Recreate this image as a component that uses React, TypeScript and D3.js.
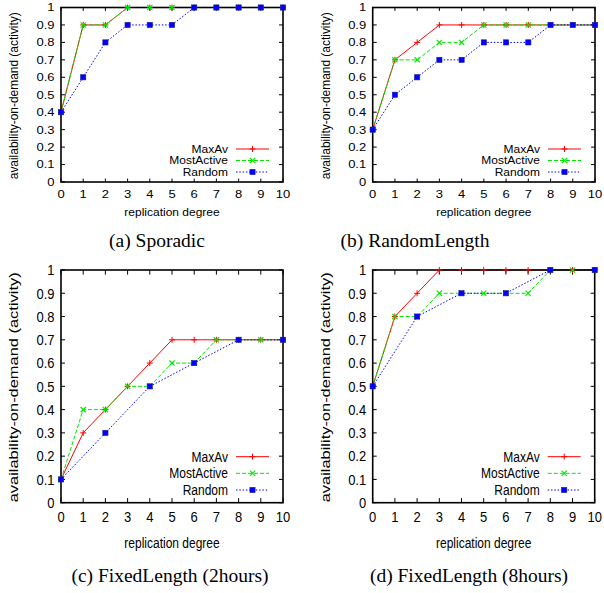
import React from 'react';
import * as d3 from 'd3';

// ---------- data ----------
const xDegrees = [0, 1, 2, 3, 4, 5, 6, 7, 8, 9, 10];
const xDegreesEven = [0, 2, 4, 6, 8, 10];
const seriesNames = ['MaxAv', 'MostActive', 'Random'];
const yTickValues = [0, 0.1, 0.2, 0.3, 0.4, 0.5, 0.6, 0.7, 0.8, 0.9, 1];
const yTickLabels = ['0', '0.1', '0.2', '0.3', '0.4', '0.5', '0.6', '0.7', '0.8', '0.9', '1'];
const xTickValues = [0, 1, 2, 3, 4, 5, 6, 7, 8, 9, 10];
const xAxisTitle = 'replication degree';
const yAxisTitle = 'availability-on-demand (activity)';

const sporadicMaxAv = [0.4, 0.9, 0.9, 1, 1, 1, 1, 1, 1, 1, 1];
const sporadicMostActive = [0.4, 0.9, 0.9, 1, 1, 1, 1, 1, 1, 1, 1];
const sporadicRandom = [0.4, 0.6, 0.8, 0.9, 0.9, 0.9, 1, 1, 1, 1, 1];

const randomLengthMaxAv = [0.3, 0.7, 0.8, 0.9, 0.9, 0.9, 0.9, 0.9, 0.9, 0.9, 0.9];
const randomLengthMostActive = [0.3, 0.7, 0.7, 0.8, 0.8, 0.9, 0.9, 0.9, 0.9, 0.9, 0.9];
const randomLengthRandom = [0.3, 0.5, 0.6, 0.7, 0.7, 0.8, 0.8, 0.8, 0.9, 0.9, 0.9];

const fixed2hMaxAv = [0.1, 0.3, 0.4, 0.5, 0.6, 0.7, 0.7, 0.7, 0.7, 0.7, 0.7];
const fixed2hMostActive = [0.1, 0.4, 0.4, 0.5, 0.5, 0.6, 0.6, 0.7, 0.7, 0.7, 0.7];
const fixed2hRandom = [0.1, 0.3, 0.5, 0.6, 0.7, 0.7];

const fixed8hMaxAv = [0.5, 0.8, 0.9, 1, 1, 1, 1, 1, 1, 1, 1];
const fixed8hMostActive = [0.5, 0.8, 0.8, 0.9, 0.9, 0.9, 0.9, 0.9, 1, 1, 1];
const fixed8hRandom = [0.5, 0.8, 0.9, 0.9, 1, 1];

const captions = ['(a) Sporadic', '(b) RandomLength', '(c) FixedLength (2hours)', '(d) FixedLength (8hours)'];

// ---------- styles ----------
const COLORS = ['#ff0000', '#00e800', '#0000ff'];
const DASH = ['none', '4,2', '1.5,1.8'];
const SANS = '"Liberation Sans", Arial, Helvetica, sans-serif';
const SERIF = '"Liberation Serif", "Times New Roman", Times, serif';

type Series = { xs: number[]; ys: number[] };
type Panel = {
  series: Series[];
  caption: string;
  left: number; right: number; top: number; bottom: number;
  sy: number; tickOff: number; xlabOff: number; legendRows: number[];
  ylabLen: number; capX: number; capY: number;
};

const panels: Panel[] = [
  {
    series: [
      { xs: xDegrees, ys: sporadicMaxAv },
      { xs: xDegrees, ys: sporadicMostActive },
      { xs: xDegrees, ys: sporadicRandom },
    ],
    caption: captions[0],
    left: 61, right: 283, top: 7.5, bottom: 182,
    sy: 0.85, tickOff: 12, xlabOff: 30, legendRows: [-33, -21.5, -10],
    ylabLen: 167, capX: 157, capY: 240,
  },
  {
    series: [
      { xs: xDegrees, ys: randomLengthMaxAv },
      { xs: xDegrees, ys: randomLengthMostActive },
      { xs: xDegrees, ys: randomLengthRandom },
    ],
    caption: captions[1],
    left: 372.7, right: 595, top: 7.5, bottom: 182,
    sy: 0.85, tickOff: 12, xlabOff: 30, legendRows: [-33, -21.5, -10],
    ylabLen: 167, capX: 415, capY: 240,
  },
  {
    series: [
      { xs: xDegrees, ys: fixed2hMaxAv },
      { xs: xDegrees, ys: fixed2hMostActive },
      { xs: xDegreesEven, ys: fixed2hRandom },
    ],
    caption: captions[2],
    left: 61, right: 283, top: 270, bottom: 502.7,
    sy: 1.15, tickOff: 14, xlabOff: 40, legendRows: [-46, -29.4, -12.7],
    ylabLen: 230, capX: 170, capY: 575,
  },
  {
    series: [
      { xs: xDegrees, ys: fixed8hMaxAv },
      { xs: xDegrees, ys: fixed8hMostActive },
      { xs: xDegreesEven, ys: fixed8hRandom },
    ],
    caption: captions[3],
    left: 372.7, right: 594.7, top: 270, bottom: 502.7,
    sy: 1.15, tickOff: 14, xlabOff: 40, legendRows: [-46, -29.4, -12.7],
    ylabLen: 230, capX: 469, capY: 575,
  },
];

function Marker({ kind, x, y }: { kind: number; x: number; y: number }) {
  const c = COLORS[kind];
  if (kind === 0) {
    return (
      <g stroke={c} strokeWidth={1}>
        <line x1={x - 3} x2={x + 3} y1={y} y2={y} />
        <line x1={x} x2={x} y1={y - 3} y2={y + 3} />
      </g>
    );
  }
  if (kind === 1) {
    return (
      <g stroke={c} strokeWidth={1.2}>
        <line x1={x - 2.6} x2={x + 2.6} y1={y - 2.6} y2={y + 2.6} />
        <line x1={x - 2.6} x2={x + 2.6} y1={y + 2.6} y2={y - 2.6} />
      </g>
    );
  }
  return <rect x={x - 2.6} y={y - 2.6} width={5.2} height={5.2} fill={c} stroke="#1a1aa0" strokeWidth={0.6} />;
}

function STxt({ x, y, sy, anchor, size, children }: any) {
  return (
    <text
      transform={`translate(${x},${y}) scale(1,${sy})`}
      textAnchor={anchor}
      dy="0.35em"
      fontFamily={SANS}
      fontSize={size}
      fill="#000"
    >
      {children}
    </text>
  );
}

function PanelView({ p }: { p: Panel }) {
  const x = d3.scaleLinear().domain([0, 10]).range([p.left, p.right]);
  const y = d3.scaleLinear().domain([0, 1]).range([p.bottom, p.top]);
  const line = d3
    .line<[number, number]>()
    .x((d) => x(d[0]))
    .y((d) => y(d[1]));
  const tickLenX = 4 * p.sy;
  const legLineX1 = p.right - 47;
  const legLineX2 = p.right - 14;
  const legTextX = p.right - 55;
  return (
    <g>
      {p.series.map((s, i) => (
        <path
          key={'l' + i}
          d={line(s.xs.map((xv, j) => [xv, s.ys[j]] as [number, number])) || ''}
          fill="none"
          stroke={COLORS[i]}
          strokeWidth={1}
          strokeDasharray={DASH[i]}
        />
      ))}
      {yTickValues.map((v) => (
        <g key={'yt' + v} stroke="#000" strokeWidth={1}>
          <line x1={p.left} x2={p.left + 4} y1={y(v)} y2={y(v)} />
          <line x1={p.right} x2={p.right - 4} y1={y(v)} y2={y(v)} />
        </g>
      ))}
      {xTickValues.map((v) => (
        <g key={'xt' + v} stroke="#000" strokeWidth={1}>
          <line x1={x(v)} x2={x(v)} y1={p.bottom} y2={p.bottom - tickLenX} />
          <line x1={x(v)} x2={x(v)} y1={p.top} y2={p.top + tickLenX} />
        </g>
      ))}
      <rect
        x={p.left}
        y={p.top}
        width={p.right - p.left}
        height={p.bottom - p.top}
        fill="none"
        stroke="#000"
        strokeWidth={1.6}
      />
      {p.series.map((s, i) =>
        s.xs.map((xv, j) => <Marker key={'m' + i + '-' + j} kind={i} x={x(xv)} y={y(s.ys[j])} />)
      )}
      {yTickValues.map((v, k) => (
        <STxt key={'yl' + v} x={p.left - 6.5} y={y(v)} sy={p.sy} anchor="end" size={13}>
          {yTickLabels[k]}
        </STxt>
      ))}
      {xTickValues.map((v) => (
        <STxt key={'xl' + v} x={x(v)} y={p.bottom + p.tickOff} sy={p.sy} anchor="middle" size={13}>
          {String(v)}
        </STxt>
      ))}
      <STxt x={(p.left + p.right) / 2} y={p.bottom + p.xlabOff} sy={p.sy} anchor="middle" size={12}>
        {xAxisTitle}
      </STxt>
      <text
        transform={`translate(${p.left - 47},${(p.top + p.bottom) / 2 + 1}) rotate(-90)`}
        textAnchor="middle"
        dy="0.35em"
        fontFamily={SANS}
        fontSize={12.5}
        textLength={p.ylabLen}
        lengthAdjust="spacingAndGlyphs"
      >
        {yAxisTitle}
      </text>
      {seriesNames.map((name, i) => {
        const ly = p.bottom + p.legendRows[i];
        return (
          <g key={'lg' + i}>
            <STxt x={legTextX} y={ly} sy={p.sy} anchor="end" size={12}>
              {name}
            </STxt>
            <line x1={legLineX1} x2={legLineX2} y1={ly} y2={ly} stroke={COLORS[i]} strokeWidth={1} strokeDasharray={DASH[i]} />
            <Marker kind={i} x={(legLineX1 + legLineX2) / 2} y={ly} />
          </g>
        );
      })}
      <text x={p.capX} y={p.capY} dy="0.35em" textAnchor="middle" fontFamily={SERIF} fontSize={19.5} fill="#000">
        {p.caption}
      </text>
    </g>
  );
}

export default function App() {
  return (
    <svg
      width={604}
      height={593}
      viewBox="0 0 604 593"
      style={{ position: 'absolute', left: 0, top: 0, background: '#fff' }}
    >
      <rect x={0} y={0} width={604} height={593} fill="#fff" />
      {panels.map((p, i) => (
        <PanelView key={i} p={p} />
      ))}
    </svg>
  );
}
